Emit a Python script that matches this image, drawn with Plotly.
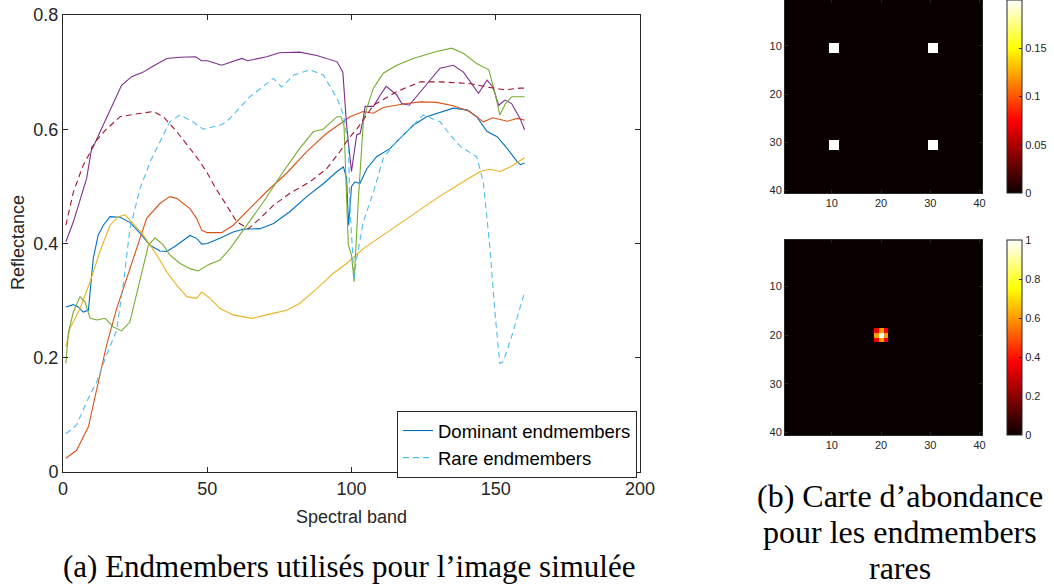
import numpy as np
import plotly.graph_objects as go

# --- spectral signatures (band, reflectance) ---
blue_band = [1, 3.6, 5.3, 7, 8.8, 10.5, 12.2, 14, 16.3, 19.8, 23.2, 26.7, 30.2, 33.6, 36, 39.4, 44, 46.3, 48.1, 50,
             54.4, 59, 62.5, 68.3, 73, 78.7, 84.5, 90.3, 95, 97.2, 98.3, 99, 100, 101.2, 102.9, 105.3, 108.7, 113.3,
             116.8, 121.4, 126, 129.5, 135.3, 140, 143.4, 147, 150.5, 154, 157.5, 158.6, 160]
blue_refl = [.289, .293, .289, .28, .283, .374, .415, .432, .447, .446, .437, .418, .397, .387, .386, .397, .414, .409,
             .399, .40, .409, .42, .425, .426, .435, .456, .482, .505, .526, .534, .514, .432, .50, .508, .505, .531,
             .552, .566, .584, .607, .622, .628, .637, .634, .622, .596, .587, .566, .543, .538, .541]

orange_band = [1, 4.7, 8.8, 11.7, 15.1, 18.6, 22, 25.5, 29, 33.6, 37, 39.4, 44, 46.3, 48.1, 50, 55, 59, 63.7, 70.6,
               77.5, 84.5, 91.4, 96, 99.5, 104, 107.6, 111, 119, 124, 129.5, 135.3, 141, 145.7, 149, 154, 157.5, 160]
orange_refl = [.024, .038, .079, .146, .222, .286, .339, .391, .444, .47, .482, .479, .461, .444, .423, .419, .419,
               .432, .456, .491, .523, .561, .593, .61, .622, .631, .628, .638, .645, .648, .647, .641, .631, .613,
               .62, .614, .619, .616]

yellow_band = [1, 2.4, 5.9, 9.4, 12.8, 16.3, 19.2, 21.5, 23.8, 27.8, 32.5, 36, 39.4, 42.9, 46.3, 48.1, 51, 54.4, 59,
               65.4, 70.6, 77.5, 82, 88, 93.7, 98.3, 104.1, 111, 119, 124, 129.5, 137.7, 144.6, 148, 151.5, 155, 160]
yellow_refl = [.219, .251, .286, .333, .386, .432, .447, .45, .438, .415, .38, .35, .327, .307, .304, .315, .304,
               .286, .275, .269, .275, .283, .295, .321, .348, .365, .391, .415, .444, .461, .479, .505, .526, .53,
               .526, .534, .55]

purple_band = [1, 3.6, 8.2, 10, 11, 14, 17, 20.3, 23.8, 27.8, 31, 36, 40.6, 46, 48, 50, 55, 59, 62, 64, 70.6, 75, 82,
               88, 92.5, 95, 97, 98.3, 100, 101.8, 103, 104, 104.7, 107.6, 110, 112, 115.7, 117.4, 120, 124, 127.2,
               130.7, 135.3, 138.8, 144, 147, 149, 151, 153.2, 155.5, 158.4, 160]
purple_refl = [.403, .438, .514, .569, .575, .607, .642, .677, .692, .70, .71, .724, .726, .727, .72, .72, .712, .719,
               .724, .72, .727, .734, .735, .729, .722, .718, .70, .607, .526, .59, .593, .616, .64, .64, .66, .675,
               .66, .645, .642, .666, .686, .707, .712, .70, .663, .686, .674, .642, .651, .645, .619, .599]

green_band = [1, 1.9, 3.6, 5.9, 7.6, 9.4, 11.7, 14.6, 17.4, 20.3, 23.2, 26.7, 29.6, 31.9, 34.8, 37, 40.6, 44, 46.9,
              50.4, 54.4, 57.9, 63.7, 69.5, 76.4, 82, 86.8, 90.2, 95, 96.3, 97.4, 98.9, 100, 100.9, 102.4, 104.1,
              105.3, 107.6, 111, 115.7, 121.4, 127.2, 129.5, 134.7, 138.8, 143.4, 147.6, 149.9, 151.4, 153.4, 155.6, 160]
green_refl = [.19, .245, .28, .307, .298, .269, .266, .269, .254, .247, .263, .339, .397, .41, .397, .38, .365, .356,
              .352, .363, .371, .391, .432, .473, .526, .566, .596, .60, .622, .622, .607, .397, .38, .333, .479, .613,
              .637, .672, .698, .712, .724, .733, .736, .742, .733, .715, .704, .66, .625, .645, .657, .657]

# rare endmembers (dashed)
cyan_band = [1, 4.7, 8.2, 11.7, 15.1, 18.6, 21, 23.2, 26.7, 30.2, 33.6, 37, 40.6, 45, 48.6, 54.4, 56.7, 64.8, 72.9,
             75.8, 80, 85.6, 90.2, 95, 97.2, 98.9, 99.5, 100.9, 101.8, 104.1, 107.6, 111, 114.5, 120, 124.9, 130.7,
             134.2, 137.7, 143.4, 145.7, 148, 149.8, 151.4, 152.6, 156, 160]
cyan_refl = [.067, .082, .123, .158, .205, .248, .333, .426, .496, .543, .578, .613, .625, .613, .60, .607, .613,
             .657, .689, .674, .695, .704, .695, .654, .625, .572, .461, .339, .374, .438, .49, .549, .572, .60, .625,
             .613, .59, .57, .552, .508, .391, .275, .19, .193, .245, .315]

darkred_band = [1, 3.6, 7, 9.4, 11.7, 15, 19.8, 24.4, 31.3, 34.8, 39.4, 45, 47.5, 50.4, 53, 56.7, 60.2, 64.3, 68.3,
                73, 78.7, 85.6, 91.4, 96, 99, 101.8, 107.6, 115.7, 124, 130.7, 141, 147, 153, 158.4, 160]
darkred_refl = [.432, .49, .537, .56, .581, .60, .622, .626, .631, .622, .596, .56, .543, .52, .496, .467, .438, .426,
                .444, .467, .488, .508, .531, .561, .584, .60, .642, .666, .683, .683, .68, .674, .669, .672, .672]

# --- abundance maps (40 x 40 pixels) ---
map_size = 40
top_block_rows = [10, 30]
top_block_cols = [10, 30]
top_block_width = 2
top_block_value = 0.2
blob_center = (20, 20)
blob_kernel = [[0.36, 0.6, 0.36],
               [0.6, 1.0, 0.6],
               [0.36, 0.6, 0.36]]

top_map = np.zeros((map_size, map_size))
for r in top_block_rows:
    for c in top_block_cols:
        top_map[r - 1:r - 1 + top_block_width, c - 1:c - 1 + top_block_width] = top_block_value

bottom_map = np.zeros((map_size, map_size))
cr, cc = blob_center
bottom_map[cr - 2:cr + 1, cc - 2:cc + 1] = np.array(blob_kernel)

pix = list(range(1, map_size + 1))

HOT = [[0, "rgb(10,0,0)"], [0.375, "rgb(255,0,0)"], [0.75, "rgb(255,255,0)"], [1, "rgb(255,255,255)"]]
AX = "#262626"
W, H = 1054, 586

fig = go.Figure()

dominant = [
    (blue_band, blue_refl, "#0072BD"),
    (orange_band, orange_refl, "#D95319"),
    (yellow_band, yellow_refl, "#EDB120"),
    (purple_band, purple_refl, "#7E2F8E"),
    (green_band, green_refl, "#77AC30"),
]
for i, (bx, by, col) in enumerate(dominant):
    fig.add_trace(go.Scatter(x=bx, y=by, mode="lines", line=dict(color=col, width=1.1),
                             name="Dominant endmembers", showlegend=(i == 0)))

rare = [(cyan_band, cyan_refl, "#4DBEEE"), (darkred_band, darkred_refl, "#A2142F")]
for i, (bx, by, col) in enumerate(rare):
    fig.add_trace(go.Scatter(x=bx, y=by, mode="lines", line=dict(color=col, width=1.1, dash="6px,4px"),
                             name="Rare endmembers", showlegend=(i == 0)))

fig.add_trace(go.Heatmap(z=top_map, x=pix, y=pix, coloraxis="coloraxis", xaxis="x2", yaxis="y2",
                         hoverinfo="skip"))
fig.add_trace(go.Heatmap(z=bottom_map, x=pix, y=pix, coloraxis="coloraxis2", xaxis="x3", yaxis="y3",
                         hoverinfo="skip"))


def px_x(p):
    return p / W


def px_y(p):
    return 1 - p / H


main_ax = dict(showline=True, linecolor=AX, linewidth=1, mirror="ticks", ticks="inside", ticklen=5,
               tickcolor=AX, showgrid=False, zeroline=False, automargin=False,
               tickfont=dict(family="Liberation Sans", size=18, color=AX))
map_ax = dict(showline=True, linecolor=AX, linewidth=1, mirror="ticks", ticks="inside", ticklen=3,
              tickcolor=AX, showgrid=False, zeroline=False, automargin=False, tickvals=[10, 20, 30, 40],
              tickfont=dict(family="Liberation Sans", size=11, color=AX))

cbar = dict(thickness=15, thicknessmode="pixels", lenmode="fraction", x=px_x(1007), xanchor="left",
            outlinecolor=AX, outlinewidth=1, ticks="inside", ticklen=3, tickcolor=AX, xpad=0, ypad=0,
            tickfont=dict(family="Liberation Sans", size=11, color=AX), yanchor="top")

fig.update_layout(
    width=W, height=H,
    margin=dict(l=0, r=0, t=0, b=0, autoexpand=False),
    paper_bgcolor="white", plot_bgcolor="white",
    xaxis=dict(domain=[px_x(63), px_x(640)], range=[0, 200], dtick=50, anchor="y", **main_ax),
    yaxis=dict(domain=[px_y(472), px_y(15)], range=[0, 0.8], dtick=0.2, anchor="x", **main_ax),
    xaxis2=dict(domain=[px_x(785), px_x(982)], range=[0.5, 40.5], anchor="y2", **map_ax),
    yaxis2=dict(domain=[px_y(193), px_y(0)], range=[40.5, 0.5], anchor="x2", **map_ax),
    xaxis3=dict(domain=[px_x(785), px_x(982)], range=[0.5, 40.5], anchor="y3", **map_ax),
    yaxis3=dict(domain=[px_y(435), px_y(240)], range=[40.5, 0.5], anchor="x3", **map_ax),
    coloraxis=dict(colorscale=HOT, cmin=0, cmax=0.2,
                   colorbar=dict(len=193 / H, y=1.0, tickvals=[0, 0.05, 0.1, 0.15, 0.2], **cbar)),
    coloraxis2=dict(colorscale=HOT, cmin=0, cmax=1,
                    colorbar=dict(len=195 / H, y=px_y(240), tickvals=[0, 0.2, 0.4, 0.6, 0.8, 1], **cbar)),
    legend=dict(x=px_x(637), xanchor="right", y=px_y(411), yanchor="top",
                bgcolor="white", bordercolor=AX, borderwidth=1,
                font=dict(family="Liberation Sans", size=18.5, color="black"),
                tracegroupgap=0, itemwidth=30),
    showlegend=True,
)

label_font = dict(family="Liberation Sans", size=18, color=AX)
fig.add_annotation(text="Spectral band", x=px_x(351), y=px_y(517), xref="paper", yref="paper",
                   xanchor="center", yanchor="middle", showarrow=False, font=label_font)
fig.add_annotation(text="Reflectance", x=px_x(18), y=px_y(243), xref="paper", yref="paper",
                   xanchor="center", yanchor="middle", showarrow=False, textangle=-90, font=label_font)

fig.add_annotation(text="(a) Endmembers utilisés pour l’image simulée", x=px_x(349), y=px_y(566),
                   xref="paper", yref="paper", xanchor="center", yanchor="middle", showarrow=False,
                   font=dict(family="Liberation Serif", size=31, color="black"))
for txt, yy in [("(b) Carte d’abondance", 496), ("pour les endmembers", 532), ("rares", 568)]:
    fig.add_annotation(text=txt, x=px_x(900), y=px_y(yy), xref="paper", yref="paper",
                       xanchor="center", yanchor="middle", showarrow=False,
                       font=dict(family="Liberation Serif", size=32, color="black"))

# the page has a default body margin; drop it so the figure sits at the window's corner
fig.write_html("out.html", config={"displayModeBar": False},
               post_script="document.body.style.margin='0';")
